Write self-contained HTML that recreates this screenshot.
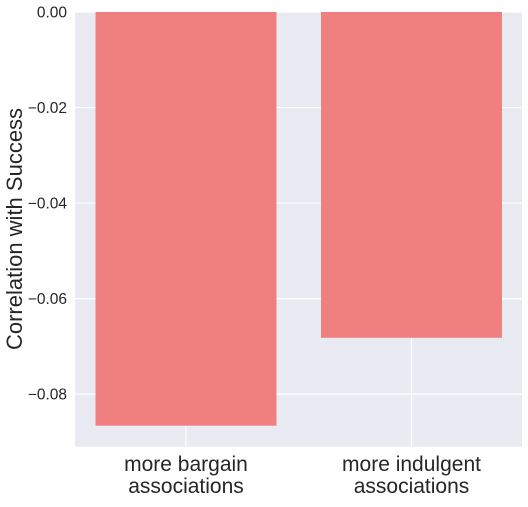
<!DOCTYPE html>
<html><head><style>
body{margin:0;background:#fff;}
svg{font-family:"Liberation Sans",Arial,sans-serif;}
</style></head><body>
<svg id="chart" width="528" height="502"></svg>
<script>
const categories=["more bargain|associations","more indulgent|associations"];
const values=[-0.0866,-0.0682];
const yTicks=[0,-0.02,-0.04,-0.06,-0.08];
const tickLabels=["0.00","\u22120.02","\u22120.04","\u22120.06","\u22120.08"];
const ns="http://www.w3.org/2000/svg";
const svg=document.getElementById('chart');
const L=75,R=522,T=12,B=446.7,yMin=-0.091,yMax=0;
const y=v=>T+(yMax-v)/(yMax-yMin)*(B-T);
const step=225.5, x0=186;
const x=i=>x0+i*step;
const bw=181;
function mk(tag,attrs){const e=document.createElementNS(ns,tag);for(const k in attrs)e.setAttribute(k,attrs[k]);svg.appendChild(e);return e;}
const bg=mk('rect',{x:L,y:T,width:R-L,height:B-T,fill:'#eaeaf2'});


yTicks.forEach((t,i)=>{
  const g=mk('line',{x1:L,x2:R,y1:y(t),y2:y(t),stroke:'#fff','stroke-width':1.2});
  
  
  const tx=mk('text',{x:L-8,y:y(t)+5.5,'text-anchor':'end','font-size':15.5,fill:'#262626'});
  tx.textContent=tickLabels[i];
  
  
});
categories.forEach((c,i)=>{
  const g=mk('line',{x1:x(i),x2:x(i),y1:T,y2:B,stroke:'#fff','stroke-width':1.2});
  
  
});
values.forEach((v,i)=>{
  const r=mk('rect',{x:x(i)-bw/2,y:y(0),width:bw,height:y(v)-y(0),fill:'#f08080'});
  
  
});
categories.forEach((c,i)=>{
  const parts=c.split('|');
  parts.forEach((p,j)=>{
    const tx=mk('text',{x:x(i),y:471+j*22,'text-anchor':'middle','font-size':21,fill:'#262626'});
    tx.textContent=p;
    
    
  });
});
const yt=mk('text',{x:0,y:0,'text-anchor':'middle','font-size':22,fill:'#262626',transform:'translate(22,229) rotate(-90)'});
yt.textContent='Correlation with Success';


</script>
</body></html>
